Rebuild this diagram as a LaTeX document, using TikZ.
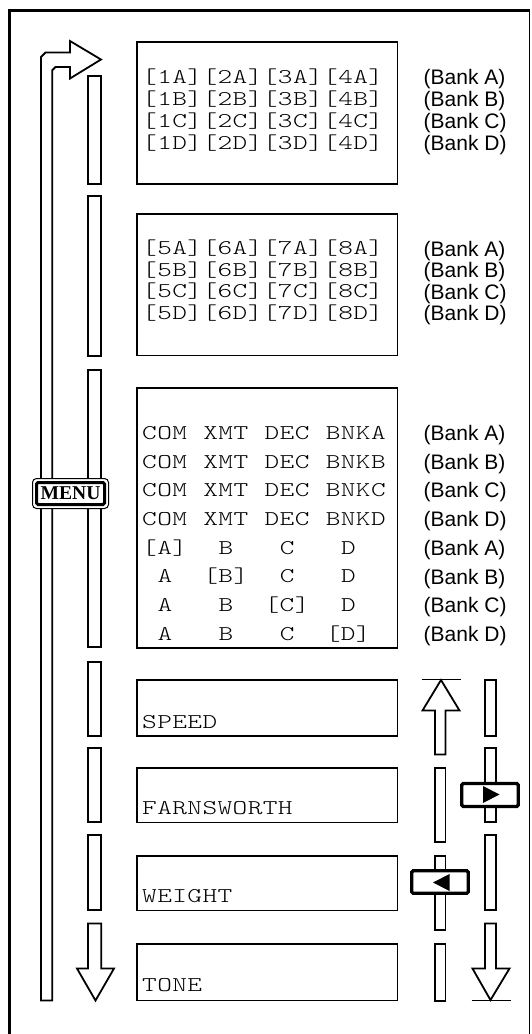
\documentclass[tikz,border=0pt]{standalone}
\usepackage{fontspec}
\newfontfamily\monof[FakeStretch=1.33,LetterSpace=2]{Latin Modern Mono Light}
\newfontfamily\sansf{Liberation Sans}
\newfontfamily\seriff{Liberation Serif}
\tikzset{
  ln/.style={line width=1.8pt, line join=miter},
  bar/.style={draw, line width=1.8pt, fill=white},
  tbox/.style={draw, line width=1.8pt},
  mt/.style={font=\monof\fontsize{21}{21}\selectfont, anchor=base west, inner sep=0pt},
  bk/.style={font=\sansf\fontsize{21}{21}\selectfont, anchor=base west, inner sep=0pt},
  btn/.style={draw, line width=3.3pt, rounded corners=1.5pt, fill=white},
}
\newcommand\mrow[3]{\foreach \k/\w [count=\i] in {#3} \node[mt] (#1-\i) at ({142+15.3*\k},{#2+6.4}) {\w};}
\newcommand\bank[3]{\node[bk] (#1) at (423.5,{#2+7.5}) {(Bank #3)};}
\begin{document}
\begin{tikzpicture}[x=1pt,y=-1pt]
\useasboundingbox (0,0) rectangle (531,1034);
% frame
\draw[line width=3pt] (9.5,1036) -- (9.5,10.5) -- (529.5,10.5);
\draw[line width=1.6pt] (529.5,10.5) -- (529.5,1036);
% long return arrow
\draw[ln] (41,1000.5) -- (41,57) -- (45.5,52.5) -- (70,52.5) -- (70,41) -- (101,59.5) -- (70,78.5) -- (70,67) -- (55.5,67) -- (52.3,70.2) -- (52.3,1000.5) -- cycle;
% left column bars
\foreach \a/\b in {75/185,195/357,369/648,661/737,747/823,834/911}
  \draw[bar] (88,\a+1) rectangle (101.3,\b-1);
\draw[ln, fill=white] (88,923.5) -- (101.3,923.5) -- (101.3,968.5) -- (114,968.5) -- (95.5,1000.5) -- (77,968.5) -- (88,968.5) -- cycle;
% text boxes
\draw[tbox] (137,42) rectangle (397.5,184);
\draw[tbox] (137,214) rectangle (397.5,355.5);
\draw[tbox] (137,388) rectangle (397.5,648);
\draw[tbox] (137,680) rectangle (397.5,736);
\draw[tbox] (137,768) rectangle (397.5,822.5);
\draw[tbox] (137,856) rectangle (397.5,910.5);
\draw[tbox] (137,944) rectangle (397.5,1000.5);
% box 1
\mrow{a1}{77}{0/[1A][2A][3A][4A]}
\mrow{a2}{99}{0/[1B][2B][3B][4B]}
\mrow{a3}{121}{0/[1C][2C][3C][4C]}
\mrow{a4}{143}{0/[1D][2D][3D][4D]}
\bank{ba1}{77}{A}\bank{ba2}{99}{B}\bank{ba3}{121}{C}\bank{ba4}{143}{D}
% box 2
\mrow{b1}{248.5}{0/[5A][6A][7A][8A]}
\mrow{b2}{270}{0/[5B][6B][7B][8B]}
\mrow{b3}{291.5}{0/[5C][6C][7C][8C]}
\mrow{b4}{313}{0/[5D][6D][7D][8D]}
\bank{bb1}{248.5}{A}\bank{bb2}{270}{B}\bank{bb3}{291.5}{C}\bank{bb4}{313}{D}
% box 3
\mrow{c1}{433}{0/COM,4/XMT,8/DEC,12/BNKA}
\mrow{c2}{461.7}{0/COM,4/XMT,8/DEC,12/BNKB}
\mrow{c3}{490.4}{0/COM,4/XMT,8/DEC,12/BNKC}
\mrow{c4}{519.1}{0/COM,4/XMT,8/DEC,12/BNKD}
\mrow{c5}{547.8}{0/[A],5/B,9/C,13/D}
\mrow{c6}{576.5}{1/A,4/[B],9/C,13/D}
\mrow{c7}{605.2}{1/A,5/B,8/[C],13/D}
\mrow{c8}{633.9}{1/A,5/B,9/C,12/[D]}
\bank{bc1}{433}{A}\bank{bc2}{461.7}{B}\bank{bc3}{490.4}{C}\bank{bc4}{519.1}{D}
\bank{bc5}{547.8}{A}\bank{bc6}{576.5}{B}\bank{bc7}{605.2}{C}\bank{bc8}{633.9}{D}
% bottom boxes
\mrow{s}{722}{0/SPEED}
\mrow{f}{808.5}{0/FARNSWORTH}
\mrow{w}{896}{0/WEIGHT}
\mrow{t}{985}{0/TONE}
% middle column
\draw[ln] (421.5,679.5) -- (460.5,679.5);
\draw[ln, fill=white] (441,680) -- (459.5,710.5) -- (445.5,710.5) -- (445.5,754.5) -- (435,754.5) -- (435,710.5) -- (422.5,710.5) -- cycle;
\foreach \a/\b in {767/843,855/931,943/1002}
  \draw[bar] (435,\a+1) rectangle (445.5,\b-1);
% right column
\foreach \a/\b in {679/737,747/823,834/911}
  \draw[bar] (485,\a+1) rectangle (496,\b-1);
\draw[ln, fill=white] (485,923.5) -- (496,923.5) -- (496,968.5) -- (509.5,968.5) -- (490.5,1000) -- (472.5,968.5) -- (485,968.5) -- cycle;
\draw[ln] (471.5,1000.5) -- (510.5,1000.5);
% buttons
\draw[btn] (461.7,783.5) rectangle (518.3,806.5);
\fill (499.5,794.5) -- (483,786) -- (483,803) -- cycle;
\draw[btn] (411.7,870.8) rectangle (468.3,893.3);
\fill (433,882.5) -- (449.5,874) -- (449.5,891) -- cycle;
% MENU
\draw[line width=1pt, rounded corners=4pt, fill=white] (32.5,478.5) rectangle (108.5,508.5);
\draw[line width=3pt, rounded corners=1.5pt] (36.5,482.5) rectangle (104.5,504.5);
\node[font=\seriff\bfseries\fontsize{19.6}{19.6}\selectfont, inner sep=0pt] (menu) at (70.5,493.5) {MENU};
\end{tikzpicture}
\end{document}
